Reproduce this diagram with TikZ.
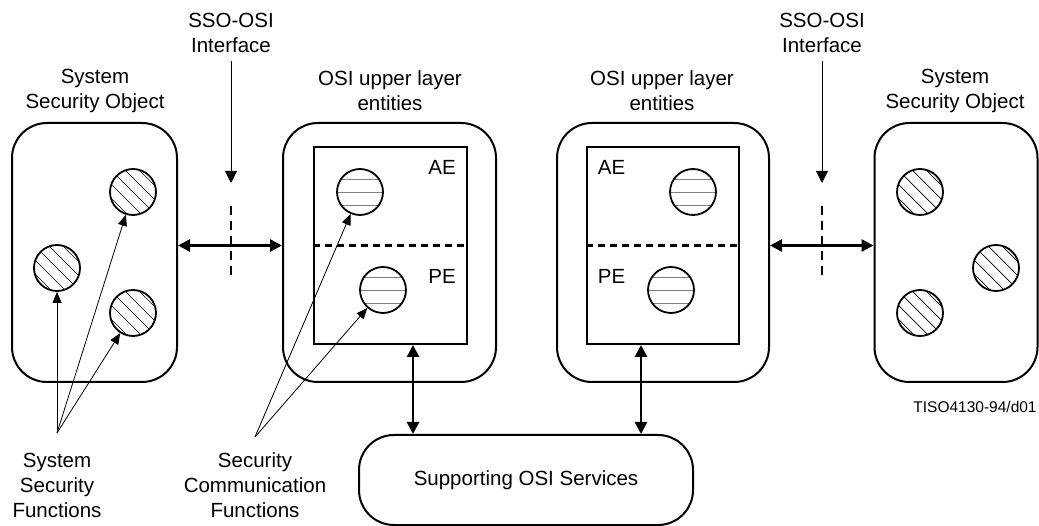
\documentclass[tikz,border=0pt]{standalone}
\usepackage{fontspec}
\setmainfont{Liberation Sans}
\usetikzlibrary{arrows.meta}
\begin{document}
\begin{tikzpicture}
    [
    x=1pt, y=-1pt,
    every node/.style={font=\fontsize{20.5}{25}\selectfont},
    txt/.style={align=center, inner sep=0pt},
    rbox/.style={
      draw,
      line width=2pt,
      rounded corners=35pt,
      inner sep=0pt
    },
    inbox/.style={
      draw,
      line width=2pt,
      inner sep=0pt
    },
    ssfunc/.style={
      circle,
      draw,
      line width=1.8pt,
      minimum size=46pt,
      inner sep=0pt,
      path picture={
        \foreach \k in {-28,-14,0,14,28}
          \draw[line width=0.7pt] ([xshift=\k pt]path picture bounding box.center)
            ++(-30pt,30pt) -- ++(60pt,-60pt);
      }
    },
    scfunc/.style={
      circle,
      draw,
      line width=1.8pt,
      minimum size=46pt,
      inner sep=0pt,
      path picture={
        \foreach \k in {-13,0,13}
          \draw[gray, line width=0.8pt] ([yshift=\k pt]path picture bounding box.center)
            ++(-30pt,0pt) -- ++(60pt,0pt);
      }
    },
    bigarrow/.style={
      line width=2.6pt,
      {Triangle[length=12pt,width=12pt]}-{Triangle[length=12pt,width=12pt]}
    },
    thinarrow/.style={
      line width=0.8pt,
      -{Triangle[length=11pt,width=9pt]}
    },
    downarrow/.style={
      line width=0.8pt,
      -{Triangle[length=12pt,width=12pt]}
    },
    ifdash/.style={line width=2.5pt, dash pattern=on 9pt off 6pt},
    divdash/.style={line width=2.5pt, dash pattern=on 7pt off 5pt}
    ]
    \useasboundingbox (0,0) rectangle (1039,526);
    % boxes
    \node at (94.5,252.5) [rbox, minimum width=165pt, minimum height=259pt] (ssoL) {};
    \node at (389.5,252.5) [rbox, minimum width=213pt, minimum height=259pt] (osiL) {};
    \node at (663,252.5) [rbox, minimum width=212pt, minimum height=259pt] (osiR) {};
    \node at (956,252.5) [rbox, minimum width=163pt, minimum height=259pt] (ssoR) {};
    \node at (390.5,245.5) [inbox, minimum width=153pt, minimum height=197pt] (innerL) {};
    \node at (663,245.5) [inbox, minimum width=152pt, minimum height=197pt] (innerR) {};
    \node at (526,480) [rbox, minimum width=334pt, minimum height=90pt] (sup) {Supporting OSI Services};
    \draw[divdash] (innerL.west) -- (innerL.east);
    \draw[divdash] (innerR.west) -- (innerR.east);
    \node at (442,167) [txt] (aeLtxt) {AE};
    \node at (442,276) [txt] (peLtxt) {PE};
    \node at (611.5,167) [txt] (aeRtxt) {AE};
    \node at (611.5,276) [txt] (peRtxt) {PE};
    % functions
    \node at (133,192) [ssfunc] (sl1) {};
    \node at (57,268) [ssfunc] (sl2) {};
    \node at (133,313) [ssfunc] (sl3) {};
    \node at (920,192) [ssfunc] (sr1) {};
    \node at (996,268) [ssfunc] (sr2) {};
    \node at (920,313) [ssfunc] (sr3) {};
    \node at (360,192) [scfunc] (aeL) {};
    \node at (383,290) [scfunc] (peL) {};
    \node at (693,192) [scfunc] (aeR) {};
    \node at (671,290) [scfunc] (peR) {};
    % labels
    \node at (95,91) [txt] (ssoLlab) {System\\Security Object};
    \node at (390,91) [txt] (osiLlab) {OSI upper layer\\entities};
    \node at (662,91) [txt] (osiRlab) {OSI upper layer\\entities};
    \node at (955,91) [txt] (ssoRlab) {System\\Security Object};
    \node at (231,33) [txt] (ifLlab) {SSO-OSI\\Interface};
    \node at (822,33) [txt] (ifRlab) {SSO-OSI\\Interface};
    \node at (57,485) [txt] (ssflab) {System\\Security\\Functions};
    \node at (255,485) [txt] (scflab) {Security\\Communication\\Functions};
    \node at (975,407) [txt, font=\fontsize{15.5}{18}\selectfont] (tiso) {TISO4130-94/d01};
    % interfaces
    \coordinate (ifL) at (231,183);
    \coordinate (ifR) at (822,183);
    \coordinate (dashLtop) at (231,206);
    \coordinate (dashLbot) at (231,275);
    \coordinate (dashRtop) at (822,206);
    \coordinate (dashRbot) at (822,275);
    \draw[downarrow] ([yshift=-8pt]ifLlab.south) -- (ifL);
    \draw[downarrow] ([yshift=-8pt]ifRlab.south) -- (ifR);
    \draw[ifdash] (dashLtop) -- (dashLbot);
    \draw[ifdash] (dashRtop) -- (dashRbot);
    \draw[bigarrow] (ssoL.east |- innerL.west) -- (osiL.west |- innerL.west);
    \draw[bigarrow] (osiR.east |- innerR.west) -- (ssoR.west |- innerR.west);
    \draw[bigarrow] ([xshift=22.5pt]innerL.south) -- ([xshift=22.5pt]innerL.south |- sup.north);
    \draw[bigarrow] ([xshift=-22pt]innerR.south) -- ([xshift=-22pt]innerR.south |- sup.north);
    % pointers
    \coordinate (ssfapex) at (57,433);
    \coordinate (scfapex) at (255,437);
    \draw[thinarrow] (ssfapex) -- (sl1);
    \draw[thinarrow] (ssfapex) -- (sl2);
    \draw[thinarrow] (ssfapex) -- (sl3);
    \draw[thinarrow] (scfapex) -- (aeL);
    \draw[thinarrow] (scfapex) -- (peL);
  \end{tikzpicture}
\end{document}
